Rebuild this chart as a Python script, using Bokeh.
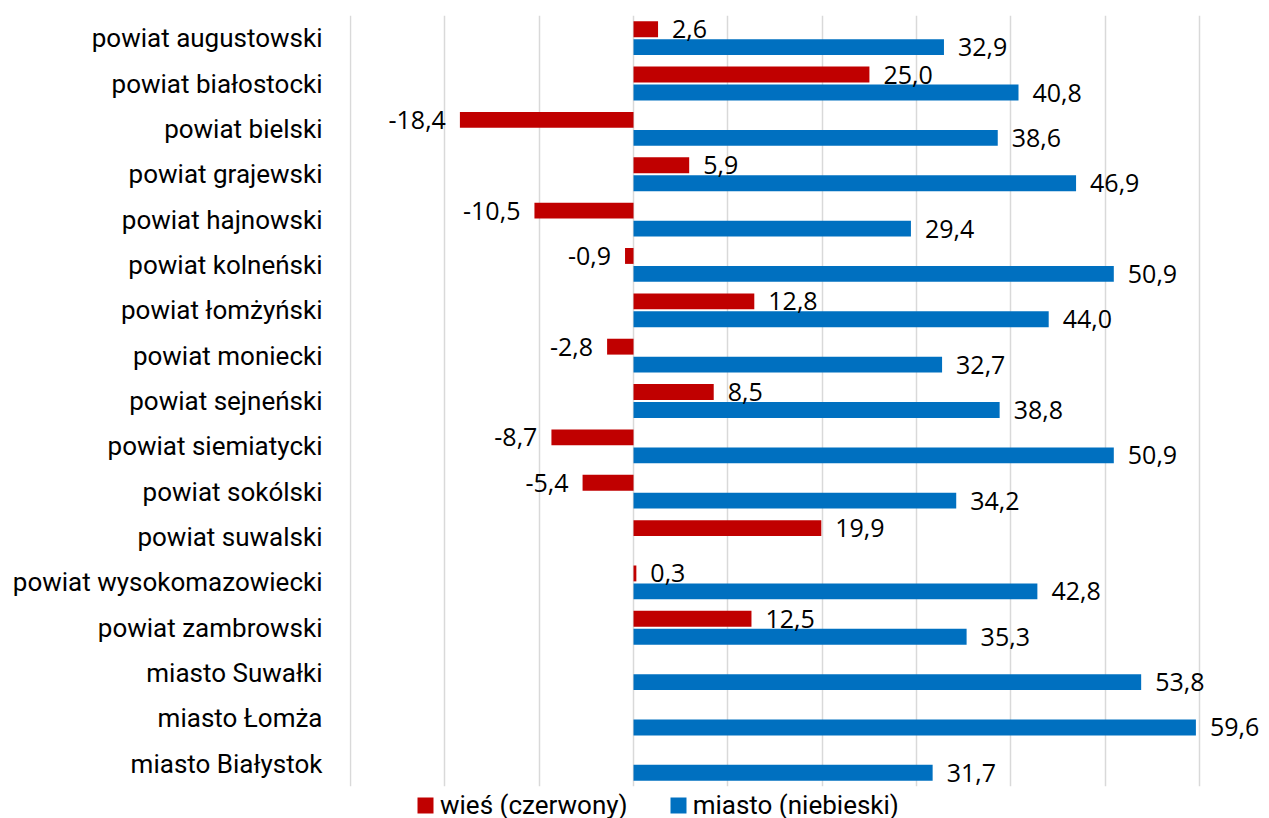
from bokeh.plotting import figure
from bokeh.layouts import column
from bokeh.core.properties import value
from bokeh.models import (ColumnDataSource, FactorRange, FixedTicker, LabelSet,
                          Legend, LegendItem)
from bokeh.transform import dodge
from bokeh.embed import file_html
from bokeh.resources import INLINE

categories = [
    "powiat augustowski", "powiat białostocki", "powiat bielski",
    "powiat grajewski", "powiat hajnowski", "powiat kolneński",
    "powiat łomżyński", "powiat moniecki", "powiat sejneński",
    "powiat siemiatycki", "powiat sokólski", "powiat suwalski",
    "powiat wysokomazowiecki", "powiat zambrowski", "miasto Suwałki",
    "miasto Łomża", "miasto Białystok",
]
wies = [2.6, 25.0, -18.4, 5.9, -10.5, -0.9, 12.8, -2.8, 8.5, -8.7, -5.4,
        19.9, 0.3, 12.5, None, None, None]
miasto = [32.9, 40.8, 38.6, 46.9, 29.4, 50.9, 44.0, 32.7, 38.8, 50.9, 34.2,
          None, 42.8, 35.3, 53.8, 59.6, 31.7]
series_names = ["wieś (czerwony)", "miasto (niebieski)"]
grid_ticks = [-30, -20, -10, 0, 10, 20, 30, 40, 50, 60]

RED = "#C00000"
BLUE = "#0070C0"
LABEL_FONT = "Roboto"
VALUE_FONT = "Open Sans"

p = figure(width=1269, height=787, output_backend="svg", toolbar_location=None,
           y_range=FactorRange(*reversed(categories)), x_range=(-30.1, 67.4),
           min_border_left=349, min_border_right=0, min_border_top=15,
           min_border_bottom=1)
p.y_range.range_padding = 0
p.outline_line_color = None
p.background_fill_color = "white"
p.border_fill_color = "white"

p.xaxis.visible = False
p.xgrid.ticker = FixedTicker(ticks=grid_ticks)
p.xgrid.grid_line_color = "#D9D9D9"
p.xgrid.grid_line_width = 1.5
p.ygrid.grid_line_color = None

p.yaxis.axis_line_color = None
p.yaxis.major_tick_line_color = None
p.yaxis.minor_tick_line_color = None
p.yaxis.major_tick_out = 0
p.yaxis.major_tick_in = 0
p.yaxis.major_label_standoff = 27
p.yaxis.major_label_text_font = LABEL_FONT
p.yaxis.major_label_text_font_size = "26px"
p.yaxis.major_label_text_color = "#000000"


def fmt(v):
    return f"{v:.1f}".replace(".", ",")


def series(vals):
    cats = [c for c, v in zip(categories, vals) if v is not None]
    vs = [v for v in vals if v is not None]
    return cats, vs


OFF = 0.198
BAR_H = 0.35

for vals, color, off in ((wies, RED, OFF), (miasto, BLUE, -OFF)):
    cats, vs = series(vals)
    src = ColumnDataSource(dict(cat=cats, val=vs, lbl=[fmt(v) for v in vs]))
    p.hbar(y=dodge("cat", off, range=p.y_range), left=0, right="val",
           height=BAR_H, source=src, fill_color=color, line_color=None)
    for sign in (1, -1):
        idx = [i for i, v in enumerate(vs) if (v >= 0) == (sign == 1)]
        if not idx:
            continue
        s2 = ColumnDataSource(dict(cat=[cats[i] for i in idx],
                                   val=[vs[i] for i in idx],
                                   lbl=[fmt(vs[i]) for i in idx]))
        ls = LabelSet(x="val", y=dodge("cat", off, range=p.y_range), text="lbl",
                      source=s2, x_offset=14 * sign,
                      text_align="left" if sign == 1 else "right",
                      text_baseline="middle", text_font=value(VALUE_FONT),
                      text_font_size="25px", text_color="#000000")
        p.add_layout(ls)

# legend strip below the plot area (its frame is aligned with the plot's frame)
lg = figure(width=1269, height=31, output_backend="svg", toolbar_location=None,
            x_axis_location=None, y_axis_location=None, min_border=0,
            min_border_left=349, x_range=(0, 1), y_range=(0, 1))
lg.outline_line_color = None
lg.grid.visible = False
lg.border_fill_color = "white"
items = []
for name, vals, color in zip(series_names, (wies, miasto), (RED, BLUE)):
    _, vs = series(vals)
    r = lg.hbar(y=list(range(len(vs))), left=0, right=vs, height=0.5,
                fill_color=color, line_color=None, visible=False)
    items.append(LegendItem(label=name, renderers=[r]))
legend = Legend(items=items, orientation="horizontal", location=(66, -2),
                glyph_width=20, glyph_height=20, label_standoff=5, spacing=40,
                padding=0, margin=0, border_line_color=None,
                background_fill_alpha=0, inactive_fill_alpha=0,
                label_text_font=LABEL_FONT, label_text_font_size="26px",
                label_text_color="#000000")
lg.add_layout(legend)

open("out.html", "w").write(file_html(column(p, lg, spacing=0), INLINE))
